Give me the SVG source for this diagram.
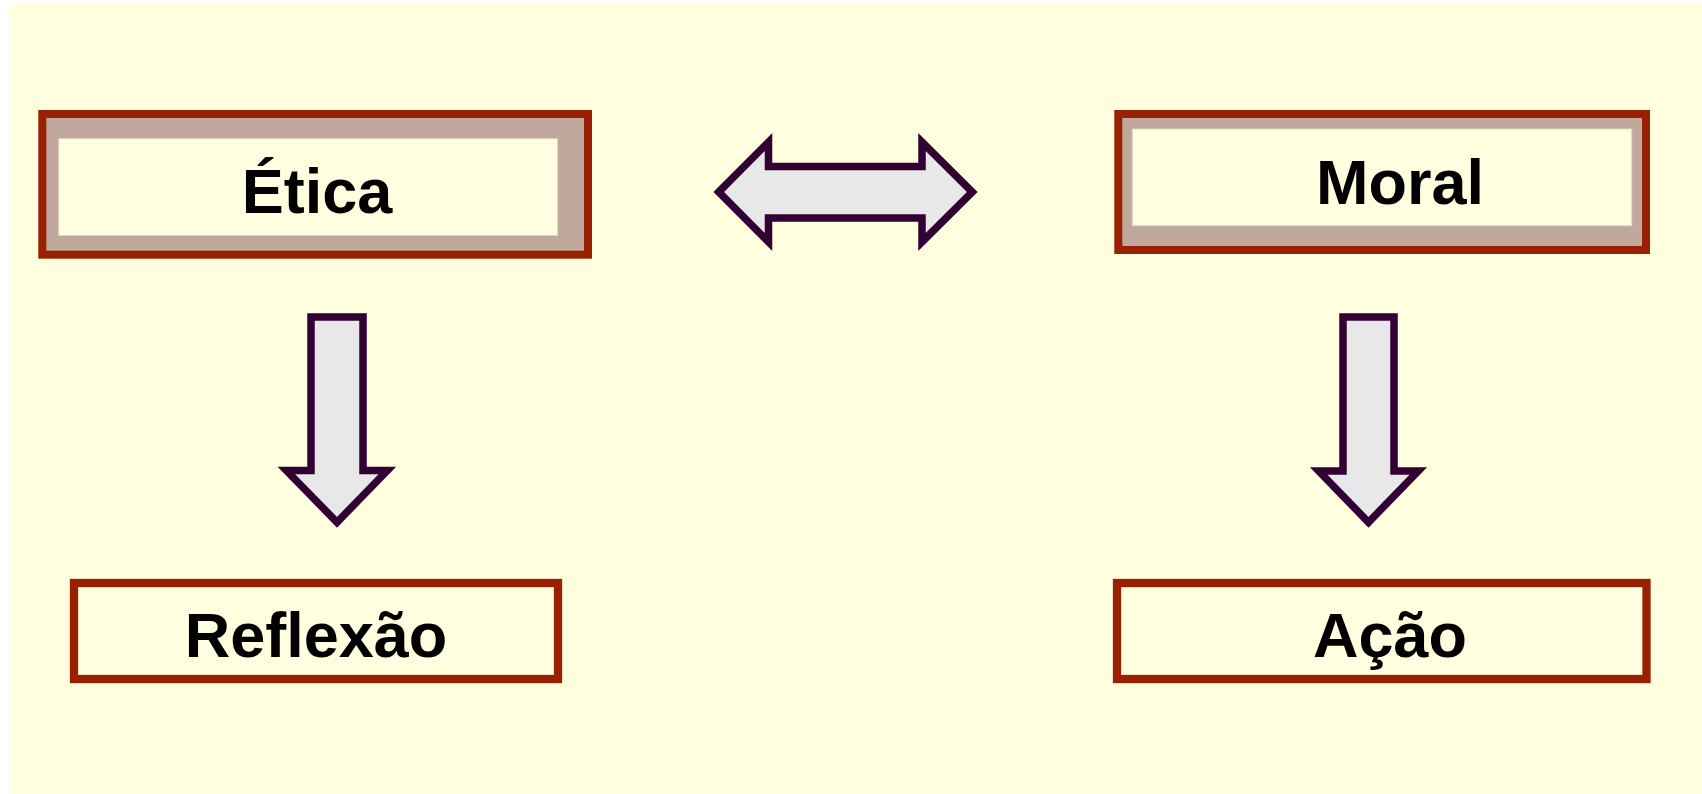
<svg xmlns="http://www.w3.org/2000/svg" width="1702" height="794" viewBox="0 0 1702 794">
<style>
.frame{fill:#C0A89C;stroke:#992000;stroke-width:8;stroke-linejoin:miter}
.inner{fill:#FFFFDF;stroke:#E4D4C2;stroke-width:1}
.box{fill:#FFFFDF;stroke:#992000;stroke-width:8.3}
.lbl{font-family:"Liberation Sans",Arial,sans-serif;font-weight:bold;font-size:63px;fill:#000;text-anchor:middle}
.arrow{fill:#E8E8E8;stroke:#330033;stroke-width:7.5;stroke-linejoin:miter;stroke-miterlimit:10}
</style>
<rect x="0" y="0" width="1702" height="794" fill="#FFFFFF"/>
<rect x="9" y="3" width="1693" height="791" fill="#FFFFDF"/>
<g id="etica">
<rect class="frame" x="42.3" y="114" width="545.7" height="140.7"/>
<rect class="inner" x="58.7" y="138.7" width="498.8" height="96.8"/>
<text class="lbl" x="317" y="213">Ética</text>
</g>
<g id="moral">
<rect class="frame" x="1118.3" y="114" width="527.7" height="136"/>
<rect class="inner" x="1132.3" y="129" width="499.4" height="96.7"/>
<text class="lbl" x="1400" y="204">Moral</text>
</g>
<g id="reflexao">
<rect class="box" x="74" y="583" width="484" height="96"/>
<text class="lbl" x="316" y="657">Reflexão</text>
</g>
<g id="acao">
<rect class="box" x="1117" y="583" width="529.5" height="96"/>
<text class="lbl" x="1390" y="657">Ação</text>
</g>
<g id="connectors">
<polygon class="arrow" points="718.7,192 768.5,142 768.5,166.5 922,166.5 922,142 972.3,192 922,242 922,218 768.5,218 768.5,242"/>
<polygon class="arrow" points="311,317 363,317 363,470.5 387.3,470.5 337,522.3 286.4,470.5 311,470.5"/>
<polygon class="arrow" points="1343,317 1394,317 1394,471 1418.3,471 1368.5,522.3 1318.7,471 1343,471"/>
</g>
</svg>
